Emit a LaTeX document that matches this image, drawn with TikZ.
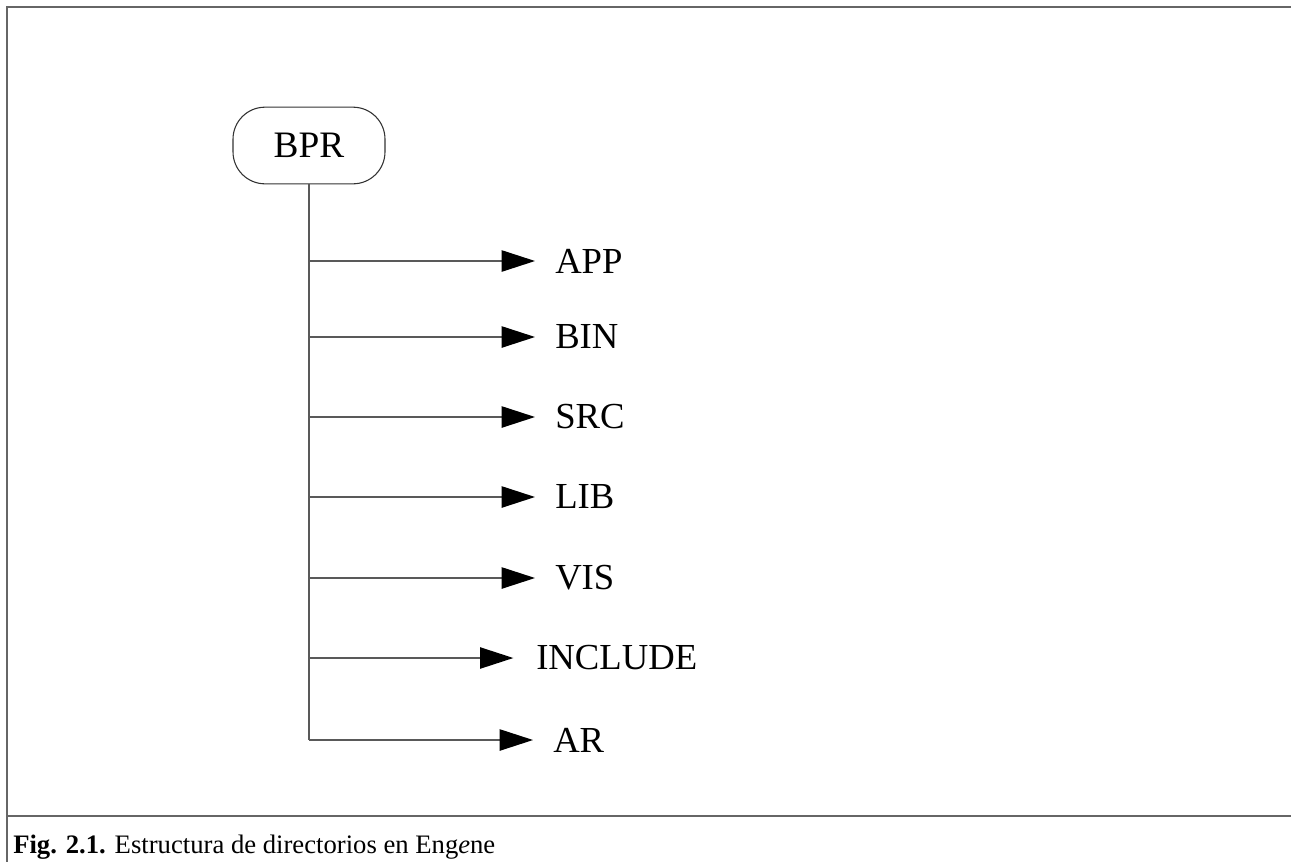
\documentclass[tikz,border=0pt]{standalone}
\usepackage{fontspec}
\setmainfont{Liberation Serif}
\usetikzlibrary{arrows.meta}
\begin{document}
\begin{tikzpicture}[x=0.75pt,y=-0.75pt,
  rule/.style={draw=black!60, line width=1.5pt},
  treeline/.style={draw=black!65, line width=1pt},
  branch/.style={treeline, -{Triangle[length=25pt,width=16pt,color=black]}, shorten >=15pt},
  dir/.style={anchor=west, inner sep=0pt, font=\fontsize{27.5}{30}\selectfont},
  rootbox/.style={draw=black!80, line width=0.8pt, rounded corners=24pt,
    minimum width=114pt, minimum height=57.5pt, inner sep=0pt,
    font=\fontsize{28}{30}\selectfont},
  caption/.style={anchor=base west, inner sep=0pt, font=\fontsize{20}{24}\selectfont}
]
\useasboundingbox (0,0) rectangle (1291,861);
% white page, a little larger than the page so no edge shows
\fill[white] (-10,-10) rectangle (1301,871);

% frame and caption separator
\draw[rule] (1301,7) -- (6.5,7) -- (6.5,871);
\draw[rule] (6.5,816) -- (1301,816);

% root directory
\node[rootbox] (bpr) at (309,145.5) {BPR};

% subdirectories
\node[dir] (app) at (555,261) {APP};
\node[dir] (bin) at (555,337) {BIN};
\node[dir] (src) at (555,417) {SRC};
\node[dir] (lib) at (555,497) {LIB};
\node[dir] (vis) at (555,578) {VIS};
\node[dir] (inc) at (536,658) {INCLUDE};
\node[dir] (ar)  at (553,740) {AR};

% trunk
\draw[treeline] (bpr.south) -- (bpr.south |- ar.west);

% branches
\foreach \d in {app,bin,src,lib,vis,ar}
  \draw[branch] (bpr.south |- \d.west) -- (\d.west);
\draw[branch, shorten >=17pt] (bpr.south |- inc.west) -- (inc.west);

% caption
\node[caption] (cap) at (13,853) {\textbf{Fig. 2.1.} Estructura de directorios en Eng\textit{e}ne};
\end{tikzpicture}
\end{document}
